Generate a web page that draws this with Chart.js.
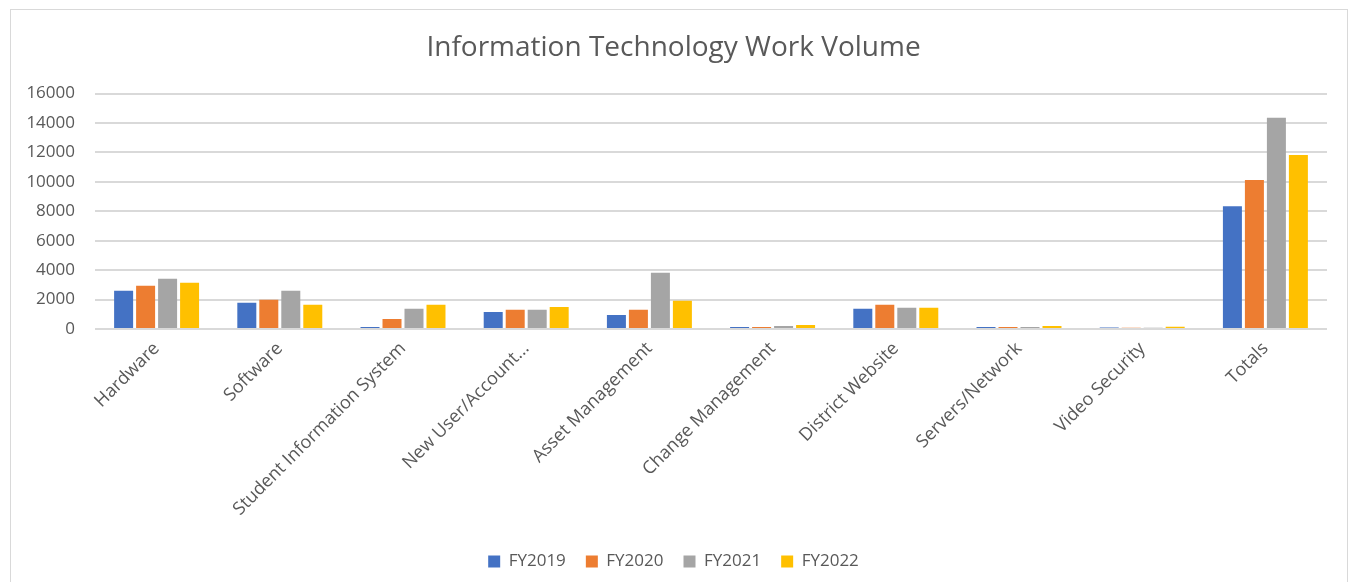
<!DOCTYPE html>
<html>
<head>
<meta charset="utf-8">
<script src="https://cdn.jsdelivr.net/npm/chart.js@4/dist/chart.umd.min.js"></script>
<style>
  html, body { margin: 0; padding: 0; background: #fff; overflow: hidden; }
  #wrap { position: relative; width: 1353px; height: 582px; }
  #frame {
    position: absolute; left: 10px; top: 9px; width: 1338px; height: 620px;
    border: 1px solid #d9d9d9; box-sizing: border-box;
  }
  canvas { position: absolute; left: 0; top: 0; }
</style>
</head>
<body>
<div id="wrap">
  <div id="frame"></div>
  <canvas id="chart" width="1353" height="582"></canvas>
</div>
<script>
  const categories = [
    "Hardware",
    "Software",
    "Student Information System",
    "New User/Account...",
    "Asset Management",
    "Change Management",
    "District Website",
    "Servers/Network",
    "Video Security",
    "Totals",
  ];

  const fy2019 = [2600, 1780, 140, 1160, 960, 140, 1370, 130, 100, 8350];
  const fy2020 = [2940, 1980, 680, 1300, 1300, 140, 1640, 130, 90, 10130];
  const fy2021 = [3420, 2600, 1370, 1300, 3830, 200, 1440, 130, 90, 14360];
  const fy2022 = [3150, 1640, 1640, 1500, 1920, 270, 1440, 200, 150, 11830];

  const yTicks = [0, 2000, 4000, 6000, 8000, 10000, 12000, 14000, 16000];

  const textColor = "#595959";
  const gridColor = "#d9d9d9";
  const fontFamily = "'Open Sans', 'Noto Sans', sans-serif";

  function series(label, data, color) {
    return {
      label: label,
      data: data,
      backgroundColor: color,
      borderWidth: 0,
      categoryPercentage: 0.714,
      barPercentage: 0.864,
    };
  }

  new Chart(document.getElementById("chart"), {
    type: "bar",
    data: {
      labels: categories,
      datasets: [
        series("FY2019", fy2019, "#4472C4"),
        series("FY2020", fy2020, "#ED7D31"),
        series("FY2021", fy2021, "#A5A5A5"),
        series("FY2022", fy2022, "#FFC000"),
      ],
    },
    options: {
      responsive: false,
      animation: false,
      layout: { padding: { left: 20, right: 26, top: 10, bottom: 2 } },
      plugins: {
        title: {
          display: true,
          text: "Information Technology Work Volume",
          color: textColor,
          font: { family: fontFamily, size: 28, weight: "normal" },
          padding: { top: 21, bottom: 29 },
        },
        legend: {
          position: "bottom",
          labels: {
            color: textColor,
            boxWidth: 12,
            boxHeight: 12,
            padding: 20,
            font: { family: fontFamily, size: 17 },
          },
        },
        tooltip: { enabled: false },
      },
      scales: {
        x: {
          grid: { display: false, drawTicks: false },
          border: { display: false },
          ticks: {
            color: textColor,
            minRotation: 45,
            maxRotation: 45,
            autoSkip: false,
            padding: 9,
            font: { family: fontFamily, size: 18 },
          },
          afterFit: function (scale) {
            scale.height = 204;
          },
        },
        y: {
          min: 0,
          max: 16000,
          afterBuildTicks: function (scale) {
            scale.ticks = yTicks.map(function (v) {
              return { value: v };
            });
          },
          grid: { color: gridColor, lineWidth: 2, drawTicks: false },
          border: { display: false },
          ticks: {
            color: textColor,
            padding: 20,
            font: { family: fontFamily, size: 17 },
            callback: function (v) {
              return String(v);
            },
          },
          afterFit: function (scale) {
            scale.width = 75;
          },
        },
      },
    },
  });
</script>
</body>
</html>
